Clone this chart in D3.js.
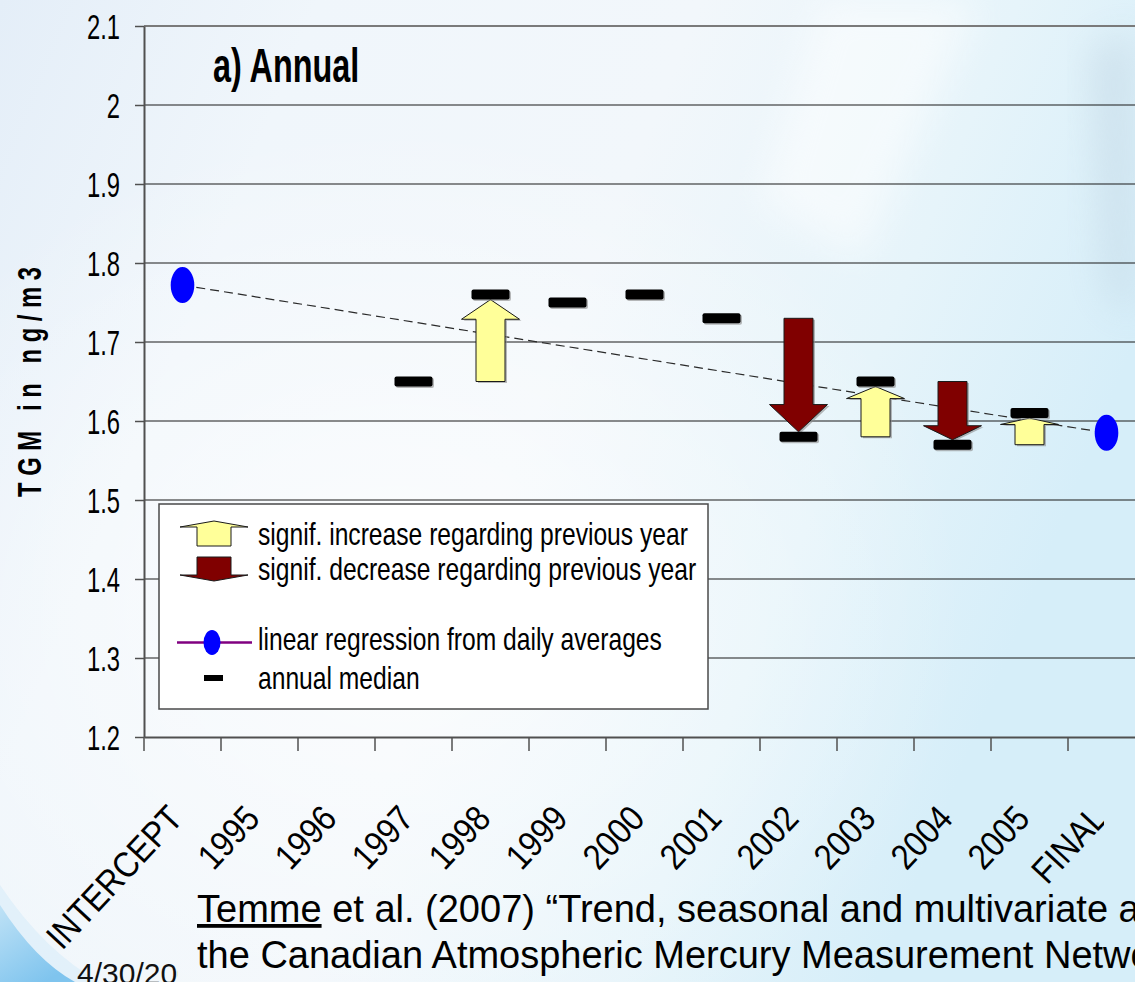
<!DOCTYPE html>
<html><head><meta charset="utf-8">
<script src="https://cdn.jsdelivr.net/npm/d3@7"></script>
<style>html,body{margin:0;padding:0;overflow:hidden;background:#eef4fa}text{font-family:"Liberation Sans",Arial,sans-serif}</style>
</head><body><svg id="c" width="1135" height="982"></svg>
<script>
// ---- data ----
const categories = ["INTERCEPT","1995","1996","1997","1998","1999","2000","2001","2002","2003","2004","2005","FINAL"];
const yTicks = [1.2,1.3,1.4,1.5,1.6,1.7,1.8,1.9,2.0,2.1];
const medianYears = ["1997","1998","1999","2000","2001","2002","2003","2004","2005"];
const medianValues = [1.65,1.76,1.75,1.76,1.73,1.58,1.65,1.57,1.61];
const increaseYears = ["1998","2003","2005"];
const increaseFrom = [1.65,1.58,1.57];
const increaseTo = [1.76,1.65,1.61];
const decreaseYears = ["2002","2004"];
const decreaseFrom = [1.73,1.65];
const decreaseTo = [1.58,1.57];
const regressionCats = ["INTERCEPT","FINAL"];
const regressionValues = [1.772,1.585];
const legendLabels = ["signif. increase regarding previous year","signif. decrease regarding previous year","linear regression from daily averages","annual median"];
const titleText = "a) Annual";
const yTitle = "T\u00a0G\u00a0M\u00a0\u00a0\u00a0i\u00a0n\u00a0\u00a0\u00a0n\u00a0g\u00a0/\u00a0m\u00a03";
const citeLine1 = ["Temme"," et al. (2007) \u201cTrend, seasonal and multivariate analysis study"];
const citeLine2 = "the Canadian Atmospheric Mercury Measurement Network";
const dateText = "4/30/2007";

// ---- setup ----
const W = 1135, H = 982;
const svg = d3.select("#c");
const defs = svg.append("defs");

const bg = defs.append("linearGradient").attr("id","bg").attr("x1",0).attr("y1",0).attr("x2",1).attr("y2",0.35);
[[0,"#e4eef8"],[0.25,"#f0f6fb"],[0.55,"#f2f7fb"],[0.8,"#e6f4fa"],[1,"#d6eef9"]].forEach(s=>bg.append("stop").attr("offset",s[0]).attr("stop-color",s[1]));
const glow = defs.append("radialGradient").attr("id","glow").attr("cx",0.35).attr("cy",0.62).attr("r",0.5);
glow.append("stop").attr("offset",0).attr("stop-color","#ffffff").attr("stop-opacity",0.75);
glow.append("stop").attr("offset",1).attr("stop-color","#ffffff").attr("stop-opacity",0);
const sw = defs.append("linearGradient").attr("id","sw").attr("x1",0).attr("y1",0).attr("x2",0.6).attr("y2",1);
sw.append("stop").attr("offset",0).attr("stop-color","#bfe2f6");
sw.append("stop").attr("offset",1).attr("stop-color","#7fc4ee");
defs.append("filter").attr("id","blur").attr("x","-50%").attr("y","-50%").attr("width","200%").attr("height","200%")
  .append("feGaussianBlur").attr("stdDeviation",18);
defs.append("clipPath").attr("id","dateclip").append("rect").attr("x",0).attr("y",900).attr("width",178).attr("height",82);
defs.append("clipPath").attr("id","labclip").append("rect").attr("x",0).attr("y",740).attr("width",1104).attr("height",242);

// background
svg.append("rect").attr("width",W).attr("height",H).attr("fill","url(#bg)");
svg.append("rect").attr("width",W).attr("height",H).attr("fill","url(#glow)");
svg.append("path").attr("d","M1090,50 L1135,30 L1135,320 L1105,290 Z").attr("fill","#bcd0df").attr("opacity",0.45).attr("filter","url(#blur)");
svg.append("path").attr("d","M820,0 L980,0 L860,260 L760,200 Z").attr("fill","#ffffff").attr("opacity",0.5).attr("filter","url(#blur)");
svg.append("path").attr("d","M0,885 Q45,952 100,982 L0,982 Z").attr("fill","#e0f0fa").attr("opacity",0.9);
svg.append("path").attr("d","M0,905 Q35,960 75,982 L0,982 Z").attr("fill","url(#sw)");

// scales
const x = d3.scaleBand().domain(categories).range([144, 144 + 77*categories.length]);
const y = d3.scaleLinear().domain([1.2, 2.1]).range([737, 26]);
const bw = x.bandwidth();
const cx = c => x(c) + bw/2;
const xR = x.range()[1];

// gridlines
svg.append("g").selectAll("line").data(yTicks.filter(v => v > 1.2)).join("line")
  .attr("x1",144).attr("x2",xR).attr("y1",d=>y(d)).attr("y2",d=>y(d))
  .attr("stroke",d=> d===2.1 ? "#7a7a7a" : "#1a1a1a").attr("stroke-width",d=> d===2.1 ? 2 : 1.2);

// y axis
const yAxis = svg.append("g").attr("transform","translate(144,0)")
  .call(d3.axisLeft(y).tickValues(yTicks).tickSize(9).tickSizeOuter(0).tickFormat(d => d3.format(".1f")(d).replace(/\.0$/,"")));
yAxis.select(".domain").attr("stroke","#505050").attr("stroke-width",2);
yAxis.selectAll(".tick line").attr("stroke","#505050").attr("stroke-width",1.5);
yAxis.selectAll(".tick text").attr("x",null).attr("dy",null).attr("fill","#000")
  .attr("text-anchor","end").attr("transform","translate(-24,12.5) scale(0.68,1)")
  .style("font-size","35px").style("font-family","'Liberation Sans',Arial,sans-serif");

// x axis
const xAxis = svg.append("g").attr("transform","translate(0,737)")
  .call(d3.axisBottom(x).tickSize(0).tickSizeOuter(0).tickFormat(""));
xAxis.select(".domain").attr("stroke","#505050").attr("stroke-width",2);
svg.append("g").selectAll("line").data(categories).join("line")
  .attr("x1",d=>x(d)).attr("x2",d=>x(d)).attr("y1",737).attr("y2",751)
  .attr("stroke","#505050").attr("stroke-width",1.5);
svg.append("g").attr("clip-path","url(#labclip)").selectAll("text").data(categories).join("text")
  .attr("transform",d=>`translate(${cx(d)+2},820) rotate(-47) scale(0.88,1)`)
  .attr("text-anchor","end").style("font-size","36px").attr("fill","#000").text(d=>d);

// title
svg.append("text").attr("transform","translate(213,82) scale(0.675,1)")
  .style("font-size","48px").style("font-weight","bold").text(titleText);

// y title
svg.append("text").attr("transform","translate(41,382) rotate(-90) scale(0.7,1)")
  .attr("text-anchor","middle").style("font-size","34px").style("font-weight","bold").text(yTitle);

// regression dashed line
svg.append("line")
  .attr("x1",cx(regressionCats[0])).attr("y1",y(regressionValues[0]))
  .attr("x2",cx(regressionCats[1])).attr("y2",y(regressionValues[1]))
  .attr("stroke","#2a2a2a").attr("stroke-width",1.2).attr("stroke-dasharray","9,5");

// arrows
function arrowPath(c, yStart, yTip, sh, hh){
  const L = Math.abs(yStart - yTip), h = 0.24*L, dir = yTip < yStart ? 1 : -1;
  const yb = yTip + dir*h;
  return `M${c-sh},${yStart} L${c-sh},${yb} L${c-hh},${yb} L${c},${yTip} L${c+hh},${yb} L${c+sh},${yb} L${c+sh},${yStart} Z`;
}
const incData = increaseYears.map((c,i)=>({c, y0:y(increaseFrom[i]), y1:y(increaseTo[i])+5}));
const decData = decreaseYears.map((c,i)=>({c, y0:y(decreaseFrom[i]), y1:y(decreaseTo[i])-5}));
const arrows = svg.append("g");
[[incData,"#ffff99"],[decData,"#800000"]].forEach(([data,fill])=>{
  arrows.append("g").selectAll("path.sh").data(data).join("path")
    .attr("d",d=>arrowPath(cx(d.c)+2, d.y0+1.5, d.y1+1.5, 14.5, 29)).attr("fill","#8c8c8c").attr("opacity",0.6);
  arrows.append("g").selectAll("path").data(data).join("path")
    .attr("d",d=>arrowPath(cx(d.c), d.y0, d.y1, 14.5, 29)).attr("fill",fill)
    .attr("stroke","#1a1a1a").attr("stroke-width",1);
});

// medians
const med = svg.append("g");
med.selectAll("rect.sh").data(medianYears).join("rect")
  .attr("x",(d)=>cx(d)-19+1.5).attr("y",(d,i)=>y(medianValues[i])-5+1.5).attr("width",38).attr("height",10).attr("rx",2)
  .attr("fill","#8a8a8a").attr("opacity",0.6);
med.selectAll("rect.m").data(medianYears).join("rect")
  .attr("x",(d)=>cx(d)-19).attr("y",(d,i)=>y(medianValues[i])-5).attr("width",38).attr("height",10).attr("rx",2)
  .attr("fill","#000");

// regression ellipses
svg.append("g").selectAll("ellipse").data(regressionCats).join("ellipse")
  .attr("cx",d=>cx(d)).attr("cy",(d,i)=>y(regressionValues[i])).attr("rx",11.8).attr("ry",18)
  .attr("fill","#0000ff");

// legend
const lg = svg.append("g");
lg.append("rect").attr("x",159).attr("y",504).attr("width",549).attr("height",205)
  .attr("fill","#ffffff").attr("stroke","#4a4a4a").attr("stroke-width",1.5);
lg.append("path").attr("d","M197,546 L197,527 L180,527 L214,521 L248,527 L231,527 L231,546 Z")
  .attr("fill","#ffff99").attr("stroke","#1a1a1a").attr("stroke-width",1);
lg.append("path").attr("d","M197,557 L197,575 L180,575 L214,581 L248,575 L231,575 L231,557 Z")
  .attr("fill","#800000").attr("stroke","#1a1a1a").attr("stroke-width",1);
lg.append("line").attr("x1",177).attr("x2",252).attr("y1",642.5).attr("y2",642.5).attr("stroke","#800080").attr("stroke-width",2.5);
lg.append("ellipse").attr("cx",212).attr("cy",642.5).attr("rx",8.5).attr("ry",12.5).attr("fill","#0000ff");
lg.append("rect").attr("x",204).attr("y",675).attr("width",19).attr("height",6).attr("fill","#000");
const lgBase = [545,580,650,689];
lg.selectAll("text").data(legendLabels).join("text")
  .attr("transform",(d,i)=>`translate(258,${lgBase[i]}) scale(0.77,1)`)
  .style("font-size","32px").attr("fill","#000").text(d=>d);

// citation
const t1 = svg.append("text").attr("x",197).attr("y",922).style("font-size","38px").attr("fill","#000");
t1.append("tspan").style("text-decoration","underline").text(citeLine1[0]);
t1.append("tspan").text(citeLine1[1]);
svg.append("text").attr("x",197).attr("y",968).style("font-size","38px").attr("fill","#000").text(citeLine2);
svg.append("g").attr("clip-path","url(#dateclip)").append("text")
  .attr("x",77).attr("y",984).style("font-size","30px").attr("fill","#111").text(dateText);
</script></body></html>
